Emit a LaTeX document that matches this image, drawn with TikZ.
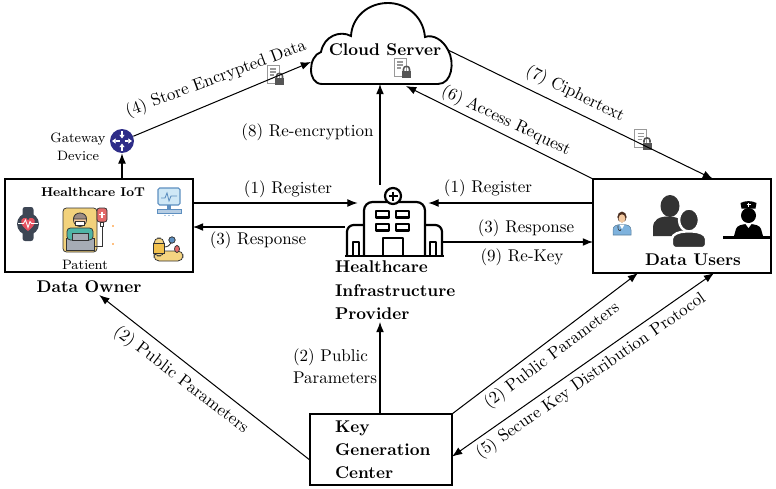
\documentclass[tikz,border=0pt]{standalone}
\usetikzlibrary{arrows.meta,calc}
\definecolor{gwblue}{HTML}{2E2D88}
\definecolor{ink}{HTML}{333333}
\definecolor{lockgray}{HTML}{555555}
\definecolor{docgray}{HTML}{999999}
\definecolor{watchdark}{HTML}{3D4654}
\definecolor{heartred}{HTML}{E5505F}
\definecolor{bedyellow}{HTML}{F2D27C}
\definecolor{bedgray}{HTML}{A6ACB5}
\definecolor{skintone}{HTML}{F3C9A1}
\definecolor{blanketgreen}{HTML}{4FB5A6}
\definecolor{ivred}{HTML}{E46A6A}
\definecolor{monblue}{HTML}{5D8FC0}
\definecolor{monscreen}{HTML}{CFE8F6}
\definecolor{cuffyellow}{HTML}{F2C14E}
\definecolor{coatblue}{HTML}{7EB2DD}
\definecolor{hairbrown}{HTML}{4B2E20}
\begin{document}
\begin{tikzpicture}[x=0.588pt,y=-0.588pt,
  flow/.style={line width=0.6pt,-{Latex[length=6pt,width=4.6pt]}},
  twoway/.style={line width=0.6pt,{Latex[length=6pt,width=4.6pt]}-{Latex[length=6pt,width=4.6pt]}},
  frame/.style={draw,line width=0.8pt,inner sep=0pt,outer sep=0pt},
  lbl/.style={inner sep=1pt},
  title/.style={font=\bfseries,inner sep=1pt},
  hosp/.style={line width=1.3pt,line join=round},
  thinink/.style={draw=ink,line width=0.45pt},
  doclock/.pic={
    \filldraw[fill=white,draw=docgray,line width=0.5pt] (-7,-9) rectangle (5,9);
    \draw[docgray,line width=0.6pt] (-4,-5) -- (2,-5) (-4,-2) -- (2,-2) (-4,1) -- (0,1);
    \draw[lockgray,line width=0.9pt] (2.5,4) -- (2.5,2) .. controls (2.5,-1.5) and (8.5,-1.5) .. (8.5,2) -- (8.5,4);
    \fill[lockgray] (1,4) rectangle (10,11);
  }]
\useasboundingbox (0,0) rectangle (776,488);

% ---------- cloud server ----------
\draw[line width=1.1pt,fill=white] (322,84) -- (438,84)
  .. controls (452,84) and (455,62) .. (448,50)
  .. controls (443,40) and (433,34) .. (425,37)
  .. controls (423,15) and (405,3) .. (388,3)
  .. controls (368,3) and (352,17) .. (351,36)
  .. controls (340,30) and (324,36) .. (321,52)
  .. controls (308,56) and (307,84) .. (322,84) -- cycle;
\node[title] (cloudtext) at (385,50) {Cloud Server};
\pic at (401,67) {doclock};
\coordinate (cloudW) at (311,62);
\coordinate (cloudS) at (380,84);
\coordinate (cloudSE) at (406,86);
\coordinate (cloudE) at (448,50);

% ---------- data owner ----------
\node[frame,minimum width=110.5pt,minimum height=54.7pt] (owner) at (99,225.5) {};
\node[inner sep=0pt,font=\fontsize{7.5}{9}\selectfont\bfseries] (iot) at (93,192) {Healthcare IoT};
\node[inner sep=0pt,font=\footnotesize] (patient) at (85,265) {Patient};
\node[title] (downer) at (89,287) {Data Owner};

% smartwatch
\fill[watchdark,rounded corners=1.5] (22.5,207) rectangle (33.5,241);
\fill[watchdark] (28,224) circle (11);
\fill[heartred] (28,231) .. controls (21,226) and (19,220) .. (23.5,218)
  .. controls (26,217) and (28,219) .. (28,220.5)
  .. controls (28,219) and (30,217) .. (32.5,218)
  .. controls (37,220) and (35,226) .. (28,231) -- cycle;
\draw[white,line width=0.5pt] (18,223.5) -- (23.5,223.5) -- (25.5,220) -- (28,227.5) -- (30,221.5) -- (31.5,223.5) -- (38,223.5);

% patient in bed with drip
\filldraw[fill=bedyellow,thinink,rounded corners=2] (63,208) rectangle (97,252);
\filldraw[fill=bedgray,thinink] (66,238) rectangle (94,250);
\filldraw[fill=blanketgreen,thinink,rounded corners=2] (67,228) rectangle (93,240);
\filldraw[fill=bedgray,thinink] (72,233) rectangle (88,240);
\filldraw[fill=skintone,thinink] (80,220) circle (6.5);
\filldraw[fill=hairbrown!55,thinink] (73.5,219) .. controls (73.5,211) and (86.5,211) .. (86.5,219) -- cycle;
\filldraw[fill=white,thinink] (75.5,221.5) rectangle (84.5,225.5);
\filldraw[fill=ivred,thinink,rounded corners=1.5] (97,208) rectangle (107,222);
\draw[white,line width=0.8pt] (102,211.5) -- (102,217.5) (99,214.5) -- (105,214.5);
\filldraw[fill=white,thinink] (100.5,222) rectangle (103.5,226);
\draw[ink,line width=0.5pt] (102,226) -- (102,246) -- (94,246);
\fill[orange] (113,226) circle (0.8) (113,244) circle (0.8);

% monitor
\filldraw[fill=monscreen,draw=monblue,line width=0.6pt,rounded corners=1] (158,188) rectangle (180,205);
\draw[monblue,line width=0.5pt] (161,198) -- (165,198) -- (167,193) -- (169,201) -- (171,196) -- (177,196);
\fill[monblue] (167,205) rectangle (171,209);
\filldraw[fill=monblue!45,draw=monblue,line width=0.5pt] (157,209) rectangle (181,213);
\fill[monblue] (165,215.5) circle (0.7) (169,215.5) circle (0.7) (173,215.5) circle (0.7);

% arm with blood pressure cuff
\filldraw[fill=skintone!80!yellow,thinink,rounded corners=3] (154,251) rectangle (183,261);
\filldraw[fill=skintone!80!yellow,thinink,rounded corners=3] (154,238) rectangle (164,256);
\filldraw[fill=cuffyellow,thinink] (153.5,243) rectangle (164.5,253);
\draw[ink,line width=0.5pt] (164,247) .. controls (168,247) and (170,245) .. (171,243);
\filldraw[fill=monblue,thinink] (172,240) circle (3.2);
\filldraw[fill=ivred,thinink] (177,249) ellipse [x radius=2.5,y radius=3.5];

% gateway device
\node[circle,fill=gwblue,minimum size=14.1pt,inner sep=0pt] (gw) at (122,141) {};
\begin{scope}[white,line width=0.8pt,-{Triangle[length=2.2pt,width=3pt]}]
  \draw (122,131) -- (122,138.5);
  \draw (122,151) -- (122,143.5);
  \draw (119.5,141) -- (112,141);
  \draw (124.5,141) -- (132,141);
\end{scope}
\node[inner sep=0pt,font=\footnotesize,align=center] (gwtext) at (78,147) {Gateway\\[1pt]Device};

% ---------- healthcare infrastructure provider ----------
\node[inner sep=0pt,minimum width=41.2pt,minimum height=41.7pt] (hip) at (393,220.5) {};
\draw[hosp,rounded corners=5] (364,256) -- (364,202) -- (425,202) -- (425,256);
\draw[hosp,fill=white] (393,196) circle (8);
\draw[hosp] (393,191.5) -- (393,200.5) (388.5,196) -- (397.5,196);
\draw[hosp] (376,211) rectangle (389,217.5) (396,211) rectangle (409,217.5)
            (376,224) rectangle (389,230.5) (396,224) rectangle (409,230.5);
\draw[hosp] (383,256) -- (383,238) -- (403,238) -- (403,256);
\draw[hosp,rounded corners=4] (364,225) -- (347,225) -- (347,256);
\draw[hosp,rounded corners=4] (425,225) -- (442,225) -- (442,256);
\draw[hosp] (353,256) -- (353,242) -- (359,242) -- (359,256);
\draw[hosp] (430,256) -- (430,242) -- (436,242) -- (436,256);
\draw[hosp] (345,256) -- (444,256);
\node[title,align=left,anchor=west] (ptext) at (333,290.5) {Healthcare\\[1.8pt]Infrastructure\\[1.8pt]Provider};

% ---------- data users ----------
\node[frame,minimum width=104.7pt,minimum height=55.3pt] (users) at (682,226) {};
\node[title] (dusers) at (693,260) {Data Users};

% doctor
\filldraw[fill=coatblue,draw=coatblue!70!black,line width=0.3pt] (613,235) -- (613,230) .. controls (613,226) and (616,224.5) .. (622,224.5) .. controls (628,224.5) and (631,226) .. (631,230) -- (631,235) -- cycle;
\fill[white] (619.5,224.5) -- (622,229) -- (624.5,224.5) -- cycle;
\fill[hairbrown] (622,217) ellipse [x radius=4.6,y radius=5.4];
\fill[skintone] (622,218.5) ellipse [x radius=3.4,y radius=4.2];
\draw[ink,line width=0.35pt] (618,225.5) .. controls (617,231) and (621,232) .. (621,229);

% two users
\fill[ink] (670,206) ellipse [x radius=9.5,y radius=11];
\fill[ink] (653,236) -- (653,228) .. controls (653,219) and (660,216.5) .. (668,216.5) .. controls (676,216.5) and (684,219) .. (684,228) -- (684,236) -- cycle;
\filldraw[fill=ink,draw=white,line width=1.4pt] (689,220) ellipse [x radius=10,y radius=11.5];
\filldraw[fill=ink,draw=white,line width=1.4pt,rounded corners=2] (672,248) -- (672,242) .. controls (672,234) and (680,231.5) .. (689,231.5) .. controls (698,231.5) and (706,234) .. (706,242) -- (706,248) -- cycle;

% nurse
\fill[black] (748.5,215.5) circle (7.5);
\fill[black] (741.5,208.5) -- (740.5,203) .. controls (745,200.5) and (752,200.5) .. (756.5,203) -- (755.5,208.5) -- cycle;
\draw[white,line width=0.6pt] (748.5,202.5) -- (748.5,206.5) (746.5,204.5) -- (750.5,204.5);
\fill[black] (734,236) -- (736,229) .. controls (737,225.5) and (742,224) .. (748.5,224) .. controls (755,224) and (760,225.5) .. (761,229) -- (763,236) -- cycle;
\fill[white] (745.5,224) -- (748.5,228) -- (751.5,224) -- cycle;
\fill[black] (723,235.5) rectangle (770,239);

% ---------- key generation center ----------
\node[frame,minimum width=83.5pt,minimum height=41.75pt] (kgc) at (381,449.5) {};
\node[title,align=left,anchor=west] (kgctext) at (333,449.5) {Key\\[1.5pt]Generation\\[1.5pt]Center};

% ---------- message icons on the links ----------
\pic at (274,74) {doclock};
\pic at (641.5,138.5) {doclock};

% ---------- connectors ----------
\coordinate (r1) at (0,203);
\coordinate (hipL) at (345,227);
\coordinate (hipR) at (443,242);

\draw[flow] (owner.north -| gw) -- (gw);
\draw[flow] (gw) -- (cloudW);
\draw[flow] (hip.north -| cloudS) -- (cloudS);
\draw[flow] (owner.east |- r1) -- (hip.west |- r1);
\draw[flow] (users.west |- r1) -- (hip.east |- r1);
\draw[flow] (hipL) -- (owner.east |- hipL);
\draw[flow] (hipR) -- (users.west |- hipR);
\draw[flow] (users.north west) -- (cloudSE);
\draw[flow] (cloudE) -- ($(users.north west)!0.674!(users.north east)$);
\draw[flow] ($(kgc.north west)!0.65!(kgc.south west)$) -- (downer);
\draw[flow] (kgc.north -| cloudS) -- (cloudS |- ptext.south);
\draw[flow] (kgc.north east) -- ($(users.south west)!0.253!(users.south east)$);
\draw[twoway] ($(users.south west)!0.68!(users.south east)$) -- ($(kgc.north east)!0.6!(kgc.south east)$);

% ---------- connector labels ----------
\node[lbl,rotate=20.5] (l4) at (216,79) {(4) Store Encrypted Data};
\node[lbl] (l8) at (307.5,132) {(8) Re-encryption};
\node[lbl,rotate=-26] (l7) at (575,94) {(7) Ciphertext};
\node[lbl,rotate=-25.5] (l6) at (506,121) {(6) Access Request};
\node[lbl] (l1a) at (288,189) {(1) Register};
\node[lbl] (l3a) at (258,240) {(3) Response};
\node[lbl] (l1b) at (488,188) {(1) Register};
\node[lbl] (l3b) at (526,228) {(3) Response};
\node[lbl] (l9) at (522,257) {(9) Re-Key};
\node[lbl,align=left,anchor=west] (l2c) at (291,366) {(2) Public\\[1pt]Parameters};
\node[lbl,rotate=-37.6] (l2a) at (181,380) {(2) Public Parameters};
\node[lbl,rotate=37] (l2b) at (552,356) {(2) Public Parameters};
\node[lbl,rotate=35] (l5) at (591,376) {(5) Secure Key Distribution Protocol};
\end{tikzpicture}
\end{document}
